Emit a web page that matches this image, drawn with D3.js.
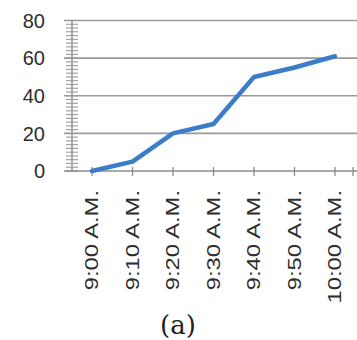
<!DOCTYPE html>
<html>
<head>
<meta charset="utf-8">
<script src="https://cdn.jsdelivr.net/npm/d3@7"></script>
<style>
  html, body { margin: 0; padding: 0; background: #fff; }
  svg { display: block; }
</style>
</head>
<body>
<svg id="chart" width="357" height="340"></svg>
<script>
// Cumulative count recorded every ten minutes
const times = ["9:00 A.M.", "9:10 A.M.", "9:20 A.M.", "9:30 A.M.", "9:40 A.M.", "9:50 A.M.", "10:00 A.M."];
const counts = [0, 5, 20, 25, 50, 55, 61];
const yTicks = [0, 20, 40, 60, 80];
const caption = "(a)";

const svg = d3.select("#chart");
const plotLeft = 64, plotRight = 357, plotTop = 20.5, plotBottom = 171;

const x = d3.scalePoint()
  .domain(times)
  .range([92, 335]);

const y = d3.scaleLinear()
  .domain([0, 80])
  .range([plotBottom, plotTop]);

// Horizontal gridlines
svg.append("g")
  .selectAll("line")
  .data(yTicks.filter(d => d > 0))
  .join("line")
  .attr("x1", plotLeft)
  .attr("x2", plotRight)
  .attr("y1", d => y(d))
  .attr("y2", d => y(d))
  .attr("stroke", "#9a9a9a")
  .attr("stroke-width", 1.6);

// Y axis with minor ticks every 2 units
const yAxis = svg.append("g").attr("transform", `translate(72,0)`);
yAxis.append("line")
  .attr("x1", 0).attr("x2", 0)
  .attr("y1", y(80)).attr("y2", y(0))
  .attr("stroke", "#8c8c8c").attr("stroke-width", 1.4);
yAxis.selectAll("line.minor")
  .data(d3.range(0, 81, 2))
  .join("line")
  .attr("class", "minor")
  .attr("x1", -6).attr("x2", 6)
  .attr("y1", d => y(d)).attr("y2", d => y(d))
  .attr("stroke", "#9a9a9a").attr("stroke-width", 1.1);

// Y tick labels
svg.append("g")
  .selectAll("text")
  .data(yTicks)
  .join("text")
  .attr("x", 45)
  .attr("y", d => y(d))
  .attr("dy", "0.36em")
  .attr("text-anchor", "end")
  .attr("font-family", "Liberation Sans, Arial, sans-serif")
  .attr("font-size", 20)
  .attr("fill", "#2e2e2e")
  .text(d => d);

// X axis line and category ticks
svg.append("line")
  .attr("x1", plotLeft).attr("x2", plotRight)
  .attr("y1", y(0)).attr("y2", y(0))
  .attr("stroke", "#8c8c8c").attr("stroke-width", 1.6);
svg.append("g")
  .selectAll("line")
  .data(times.concat(["end"]))
  .join("line")
  .attr("x1", d => d === "end" ? 353 : x(d))
  .attr("x2", d => d === "end" ? 353 : x(d))
  .attr("y1", y(0) - 4)
  .attr("y2", y(0) + 5)
  .attr("stroke", "#8c8c8c").attr("stroke-width", 1.3);

// Data line
const line = d3.line()
  .x(d => x(d.t))
  .y(d => y(d.v));
svg.append("path")
  .datum(times.map((t, i) => ({ t, v: counts[i] })))
  .attr("d", line)
  .attr("fill", "none")
  .attr("stroke", "#3b7dc8")
  .attr("stroke-width", 4.5)
  .attr("stroke-linejoin", "round")
  .attr("stroke-linecap", "round");

// Rotated category labels
svg.append("g")
  .selectAll("text")
  .data(times)
  .join("text")
  .attr("transform", d => `translate(${x(d) + 6},190) rotate(-90) scale(1.32,1)`)
  .attr("text-anchor", "end")
  .attr("font-family", "Liberation Sans, Arial, sans-serif")
  .attr("font-size", 18)
  .attr("fill", "#2e2e2e")
  .text(d => d);

// Caption
svg.append("text")
  .attr("x", 178)
  .attr("y", 334)
  .attr("text-anchor", "middle")
  .attr("font-family", "DejaVu Serif, serif")
  .attr("font-size", 26)
  .attr("fill", "#222")
  .text(caption);
</script>
</body>
</html>
